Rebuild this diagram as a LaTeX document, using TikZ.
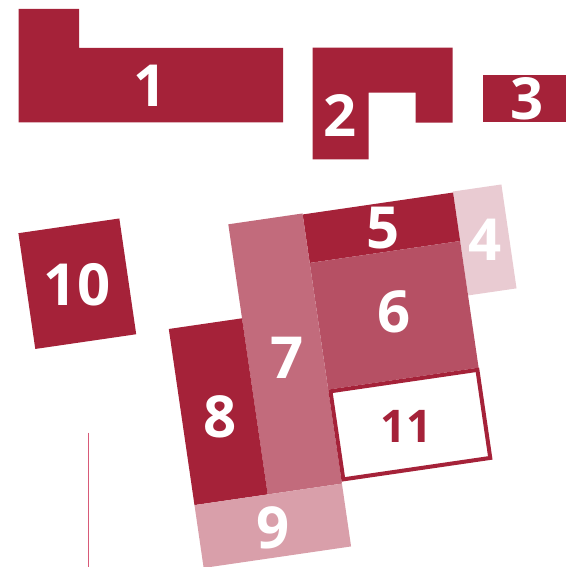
\documentclass[tikz,border=0pt]{standalone}
\usepackage{fontspec}
\setmainfont{Open Sans}
\definecolor{dark}{HTML}{A52239}
\definecolor{cseven}{HTML}{C26B7C}
\definecolor{csix}{HTML}{B65064}
\definecolor{cnine}{HTML}{D99FAA}
\definecolor{cfour}{HTML}{E9CBD2}
\definecolor{cline}{HTML}{D85A78}
\tikzset{
  lbl/.style={text=white,font=\fontsize{58}{60}\selectfont\bfseries,inner sep=0pt},
  lbldark/.style={text=dark,font=\fontsize{45}{47}\selectfont\bfseries,inner sep=0pt},
}
\begin{document}
\begin{tikzpicture}[x=1pt,y=-1pt]
\useasboundingbox (0,0) rectangle (566,567);
% top row
\fill[dark] (18.5,9) -- (79,9) -- (79,48) -- (283,48) -- (283,122.5) -- (18.5,122.5) -- cycle;
\fill[dark] (312.7,47.7) -- (452.7,47.7) -- (452.7,122.7) -- (415.7,122.7) -- (415.7,92.7) -- (368.7,92.7) -- (368.7,159.3) -- (312.7,159.3) -- cycle;
\fill[dark] (482.7,75) rectangle (566,122.5);
% rotated cluster
\begin{scope}[shift={(228.3,224.3)},rotate=8.3]
  \fill[dark] (-209,-21.5) rectangle (-107,95.5);
  \fill[cfour] (227,0) rectangle (276,105);
  \fill[dark] (75,1) rectangle (227,50);
  \fill[csix] (75,50) rectangle (227,178);
  \fill[cseven] (0,0) rectangle (75,273);
  \fill[dark] (-74,95) rectangle (0,273);
  \fill[cnine] (-74,273) rectangle (75,336.5);
  \draw[dark,line width=4pt,fill=white] (77,180) rectangle (225.5,269);
\end{scope}
% vertical line
\draw[cline,line width=1.5pt] (88.3,432.7) -- (88.3,567);
% labels
\node[lbl] (n1) at (150,86) {1};
\node[lbl] (n2) at (340,115.5) {2};
\node[lbl] (n3) at (527,98.5) {3};
\node[lbl] (n4) at (485,240) {4};
\node[lbl] (n5) at (382.7,228.3) {5};
\node[lbl] (n6) at (394,311.7) {6};
\node[lbl] (n7) at (286.7,358) {7};
\node[lbl] (n8) at (220,416.7) {8};
\node[lbl] (n9) at (273.3,528.3) {9};
\node[lbl] (n10) at (77,285) {10};
\node[lbldark] (n11) at (406,426.7) {11};
\end{tikzpicture}
\end{document}
